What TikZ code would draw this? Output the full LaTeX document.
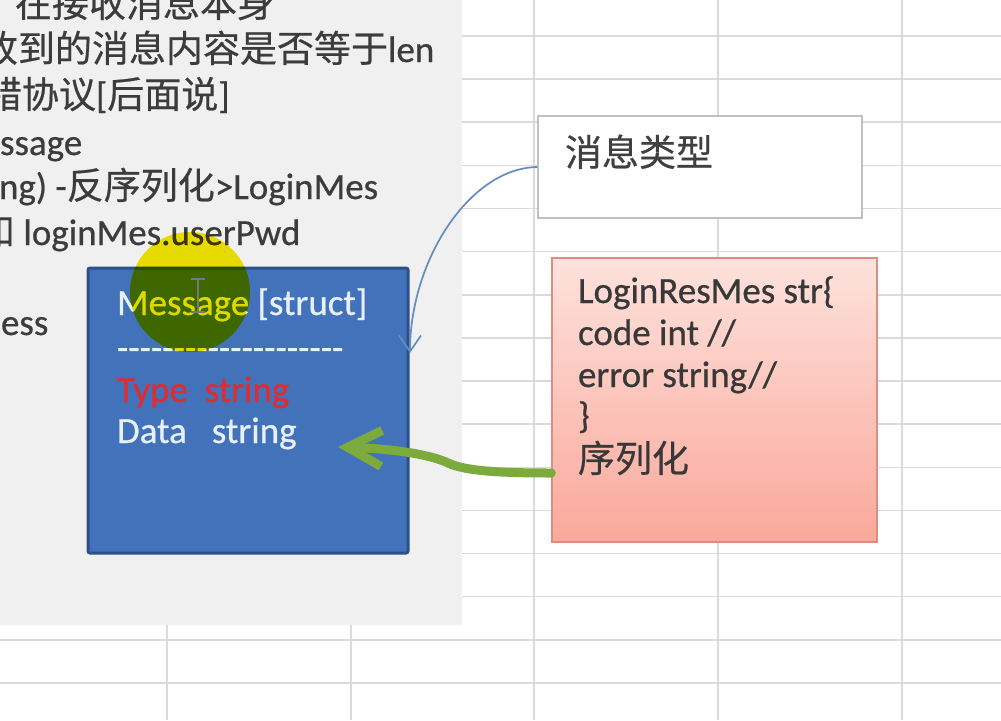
\documentclass[tikz,border=0pt]{standalone}
\usepackage{fontspec}
\setmainfont{Carlito}[FakeBold=0.6]
\newfontfamily\cjk{Noto Sans CJK SC}[FakeBold=0.5]
\newfontfamily\nolig{Carlito}[Ligatures=TeXOff,FakeBold=0.6]
\usetikzlibrary{arrows.meta}
\definecolor{gridc}{RGB}{218,218,218}
\definecolor{panelc}{RGB}{240,240,240}
\definecolor{txtc}{RGB}{60,60,60}
\definecolor{bluefill}{RGB}{66,114,186}
\definecolor{blueedge}{RGB}{44,80,140}
\definecolor{typered}{RGB}{222,45,50}
\definecolor{msgwhite}{RGB}{232,240,252}
\definecolor{pinktop}{RGB}{253,226,220}
\definecolor{pinkbot}{RGB}{250,168,155}
\definecolor{pinkedge}{RGB}{222,140,128}
\definecolor{boxedge}{RGB}{192,192,192}
\definecolor{curveblue}{RGB}{100,140,195}
\definecolor{greenarr}{RGB}{125,170,60}
\definecolor{hiyellow}{RGB}{245,232,0}
\definecolor{cursorc}{RGB}{120,120,120}
\tikzset{
  gridline/.style={draw=gridc, line width=1.6pt},
  txt/.style={anchor=base west, inner sep=0pt, outer sep=0pt, text=txtc},
  bluebox/.style={draw=blueedge, fill=bluefill, line width=3pt, rounded corners=2pt,
    minimum width=320pt, minimum height=285pt, inner sep=0pt},
  whitebox/.style={draw=boxedge, fill=white, line width=1.5pt,
    minimum width=324pt, minimum height=102pt, inner sep=0pt},
  pinkbox/.style={draw=pinkedge, top color=pinktop, bottom color=pinkbot, line width=1.5pt,
    minimum width=325pt, minimum height=284pt, inner sep=0pt},
  curvearrow/.style={draw=curveblue, line width=1.7pt, -{Straight Barb[length=16pt,width=22pt]}},
  greenarrow/.style={draw=greenarr, line width=9pt, line cap=round,
    -{Straight Barb[length=34pt,width=36pt]}},
}
\begin{document}
\begin{tikzpicture}[x=1pt,y=-1pt, font=\fontsize{37}{44}\selectfont]
\useasboundingbox (0,0) rectangle (1001,720);
\fill[white] (0,0) rectangle (1001,720);
% spreadsheet grid
\foreach \x in {167,351,534,718,902} \draw[gridline] (\x,0) -- (\x,720);
\foreach \k in {0,...,15} \draw[gridline] (0,{36+43.13*\k}) -- (1001,{36+43.13*\k});
% grey text panel
\fill[panelc] (0,0) rectangle (462,625);
\begin{scope}
\clip (0,0) rectangle (462,625);
\node[txt] (l1) at (15,17) {\cjk 在接收消息本身};
\node[txt] (l2) at (-19,62) {{\cjk 收到的消息内容是否等于}len};
\node[txt] (l3) at (-52,108) {{\cjk 纠错协议}[{\cjk 后面说}]};
\node[txt] (l4) at (-50,155) {Message};
\node[txt] (l5) at (-60,199) {(string) -{\cjk 反序列化}>LoginMes};
\node[txt] (l6) at (-22,245) {{\cjk 和} loginMes.userPwd};
\node[txt] (l7) at (1,335) {ess};
\end{scope}
% Message struct box
\node[bluebox] (msg) at (248,410.5) {};
\node[txt, text=msgwhite] (msgtitle) at (117,315) {Message [struct]};
\node[txt, text=msgwhite] (msgdash) at (117,360) {\nolig --------------------};
\node[txt, text=typered] (msgtype) at (117,402) {Type\ \ string};
\node[txt, text=msgwhite] (msgdata) at (117,443) {Data\ \ \ string};
% cursor highlight
\begin{scope}[blend mode=multiply]
\fill[hiyellow] (190,292) circle[radius=60];
\end{scope}
\draw[cursorc, line width=1.5pt] (198,279) -- (198,312) (191,279) -- (205,279) (191,312) -- (205,312);
% message type box
\node[whitebox] (typebox) at (700,167) {};
\node[txt, text=black!75] (typelabel) at (565,166) {\cjk 消息类型};
% LoginResMes box
\node[pinkbox] (res) at (714.5,400) {};
\node[txt, text=black!78] (r1) at (578,303) {LoginResMes str\{};
\node[txt, text=black!78] (r2) at (578,345) {code int //};
\node[txt, text=black!78] (r3) at (578,387) {error string//};
\node[txt, text=black!78] (r4) at (578,428) {\}};
\node[txt, text=black!78] (r5) at (578,472) {\cjk 序列化};
% connectors
\coordinate (curveend) at (410,353);
\draw[curvearrow] (typebox.west) .. controls (470,168) and (410,260) .. (curveend);
\coordinate (gend) at (338,447);
\draw[greenarrow] ([yshift=-73pt]res.west) .. controls (500,473) and (465,471) .. (448,463)
  .. controls (434,456) and (400,449) .. (gend);
\end{tikzpicture}
\end{document}
